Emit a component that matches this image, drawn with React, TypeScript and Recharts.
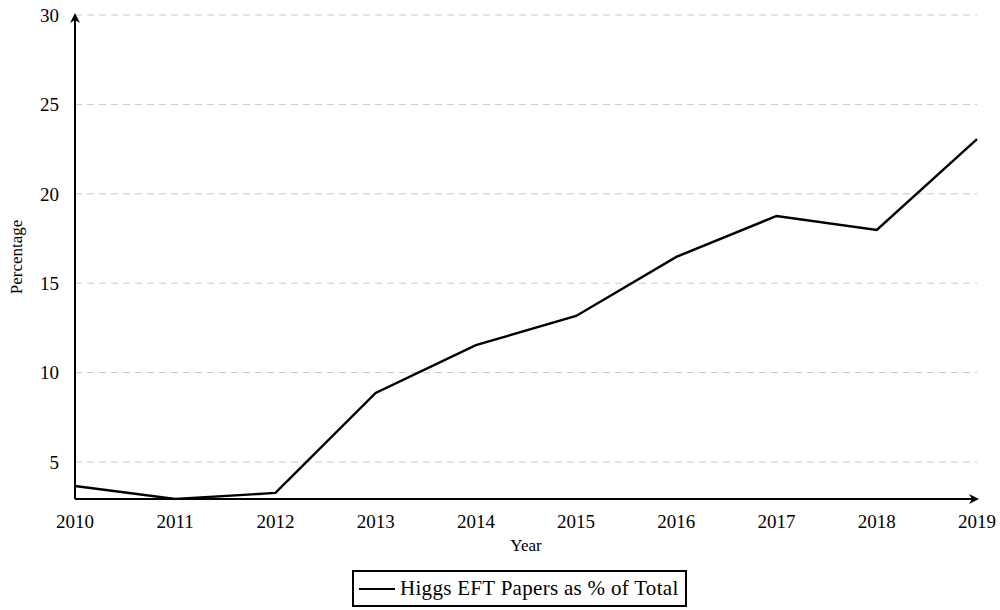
import React from "react";
import { CartesianGrid, Legend, Line, LineChart, XAxis, YAxis } from "recharts";

const years = [2010, 2011, 2012, 2013, 2014, 2015, 2016, 2017, 2018, 2019];
const percentages = [3.66, 2.93, 3.27, 8.86, 11.54, 13.17, 16.47, 18.76, 17.98, 23.06];
const yTicks = [5, 10, 15, 20, 25, 30];
const SERIES_NAME = "Higgs EFT Papers as % of Total";

const FONT = "'Liberation Serif', 'Times New Roman', serif";
const GRID = "#c8c8c8";

const data = years.map((year, i) => ({ year, pct: percentages[i] }));

function LegendBox() {
  return (
    <div
      style={{
        display: "inline-flex",
        alignItems: "center",
        border: "2px solid #000",
        padding: "4px 6px 4px 5px",
        fontFamily: FONT,
        fontSize: 21,
        letterSpacing: 0.3,
        color: "#000",
        background: "#fff",
      }}
    >
      <span style={{ display: "inline-block", width: 36, height: 0, borderTop: "2.5px solid #000", marginRight: 5 }} />
      {SERIES_NAME}
    </div>
  );
}

export default function App() {
  return (
    <div style={{ position: "absolute", left: 0, top: 0, width: 1000, height: 610, background: "#fff" }}>
      <LineChart width={1000} height={610} data={data} margin={{ top: 15, right: 23, left: 20, bottom: 34 }}>
        <defs>
          <marker id="arrow" viewBox="0 0 10 10" refX="8" refY="5" markerWidth="5" markerHeight="5" orient="auto-start-reverse">
            <path d="M0,0 L10,5 L0,10 L3,5 Z" fill="#000" />
          </marker>
        </defs>
        <CartesianGrid vertical={false} stroke={GRID} strokeDasharray="7 5" horizontalValues={yTicks} />
        <XAxis
          dataKey="year"
          type="number"
          domain={[2010, 2019]}
          ticks={years}
          tick={{ fontSize: 19, fontFamily: FONT, fill: "#000" }}
          tickLine={false}
          tickMargin={10}
          axisLine={{ stroke: "#000", strokeWidth: 2, markerEnd: "url(#arrow)" }}
          height={40}
          label={{ value: "Year", position: "insideBottom", offset: -12, fontSize: 17, fontFamily: FONT, fill: "#000" }}
        />
        <YAxis
          type="number"
          domain={[2.93, 30]}
          ticks={yTicks}
          allowDataOverflow
          tick={{ fontSize: 19, fontFamily: FONT, fill: "#000" }}
          tickLine={false}
          tickMargin={10}
          axisLine={{ stroke: "#000", strokeWidth: 2, markerStart: "url(#arrow)" }}
          width={55}
          label={{ value: "Percentage", angle: -90, position: "insideLeft", offset: -4, fontSize: 17, fontFamily: FONT, fill: "#000", style: { textAnchor: "middle" } }}
        />
        <Legend
          verticalAlign="bottom"
          align="center"
          content={() => <LegendBox />}
          wrapperStyle={{ left: 352, width: 340, bottom: 3, textAlign: "left" }}
        />
        <Line
          type="linear"
          dataKey="pct"
          name={SERIES_NAME}
          stroke="#000"
          strokeWidth={2.4}
          dot={false}
          isAnimationActive={false}
        />
      </LineChart>
    </div>
  );
}
